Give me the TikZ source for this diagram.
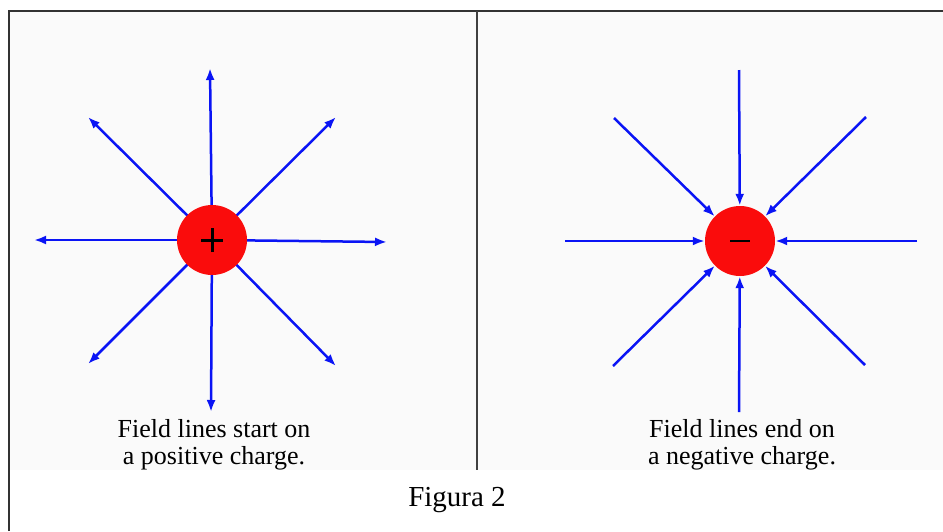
\documentclass[tikz,border=0pt]{standalone}
\usepackage{fontspec}
\setmainfont{Liberation Serif}
\usetikzlibrary{arrows.meta}
\definecolor{fieldblue}{RGB}{10,20,245}
\definecolor{chargered}{RGB}{250,12,12}
\definecolor{panelgray}{RGB}{250,250,250}
\tikzset{
  fieldline/.style={fieldblue, line width=2.5pt, -{Latex[length=12pt,width=9pt]}},
  charge/.style={circle, fill=chargered, minimum size=70pt, inner sep=0pt},
  caption/.style={align=center, font=\fontsize{26}{27}\selectfont, text=black},
  frame/.style={black!80, line width=2pt},
}
\begin{document}
\begin{tikzpicture}[x=1pt, y=-1pt]
  \useasboundingbox (0,0) rectangle (943,531);
  % panel backgrounds
  \fill[panelgray] (10,12) rectangle (476,470);
  \fill[panelgray] (478,12) rectangle (943,470);
  % frame and divider
  \draw[frame] (9,531) -- (9,11) -- (943,11);
  \draw[black!75, line width=1.6pt] (477,11) -- (477,470);

  % ---- positive charge: lines leave the charge ----
  \coordinate (pc) at (212,240);
  \coordinate (pN)  at (210,68);
  \coordinate (pS)  at (211,412);
  \coordinate (pW)  at (34,240);
  \coordinate (pE)  at (387,242);
  \coordinate (pNW) at (88,117);
  \coordinate (pNE) at (336,117);
  \coordinate (pSW) at (88,364);
  \coordinate (pSE) at (336,366);
  \foreach \e in {pN,pS,pW,pE,pNW,pNE,pSW,pSE}
    \draw[fieldline] (pc) -- (\e);
  \node[charge] (pos) at (pc) {};
  \draw[black, line width=3pt] ([xshift=-11pt]pos.center) -- ([xshift=11pt]pos.center)
                               ([yshift=-12pt]pos.center) -- ([yshift=12pt]pos.center);

  % ---- negative charge: lines end on the charge ----
  \node[charge] (neg) at (740,241) {};
  \coordinate (nN)  at (739,70);
  \coordinate (nS)  at (739,412);
  \coordinate (nW)  at (565,241);
  \coordinate (nE)  at (917,241);
  \coordinate (nNW) at (614,118);
  \coordinate (nNE) at (866,117);
  \coordinate (nSW) at (613,366);
  \coordinate (nSE) at (865,365);
  \foreach \s in {nN,nS,nW,nE,nNW,nNE,nSW,nSE}
    \draw[fieldline] (\s) -- (neg);
  \draw[black, line width=2.4pt] ([xshift=-10pt]neg.center) -- ([xshift=10pt]neg.center);

  % ---- captions ----
  \node[caption] (capL) at (214,445) {Field lines start on\\a positive charge.};
  \node[caption] (capR) at (742,445) {Field lines end on\\a negative charge.};
  % the panels clip the lower part of the captions
  \fill[white] (10,470.5) rectangle (476,531);
  \fill[white] (478,470.5) rectangle (943,531);
  \draw[frame] (9,470) -- (9,531);
  \node[font=\fontsize{29}{30}\selectfont] (fig) at (457,500) {Figura 2};
\end{tikzpicture}
\end{document}
